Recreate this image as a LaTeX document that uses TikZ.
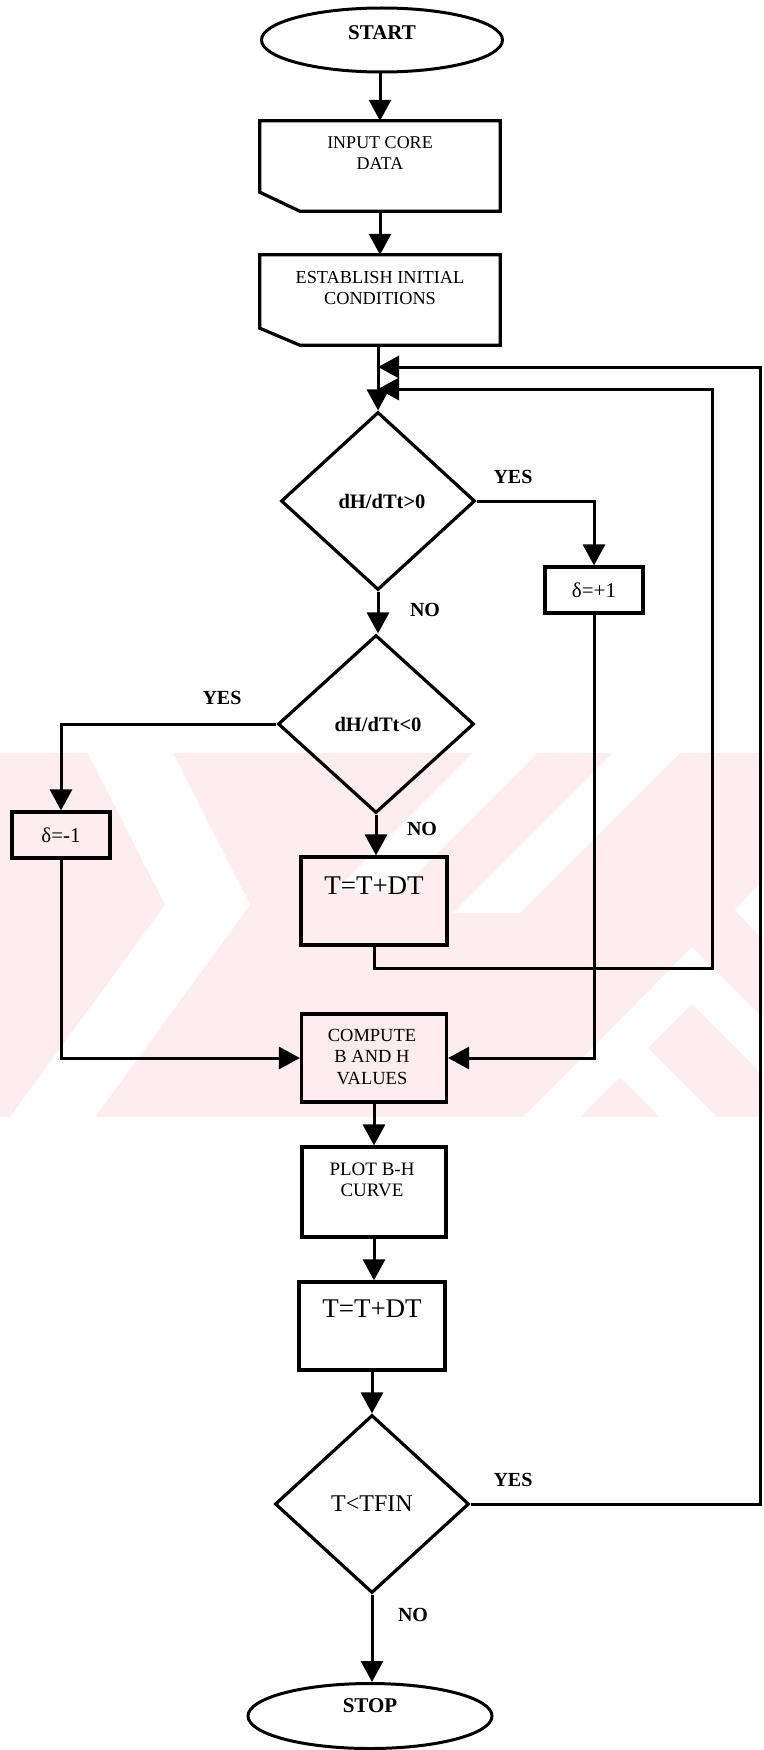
\documentclass[tikz,border=0pt]{standalone}
\usepackage{fontspec}
\setmainfont{Liberation Serif}
\usetikzlibrary{shapes.geometric,arrows.meta,calc}
\definecolor{wmpink}{RGB}{253,236,240}
\tikzset{
  x=1pt,y=-1pt,
  arr/.style={draw,line width=3pt,-{Triangle[width=22pt,length=21pt]}},
  term/.style={ellipse,draw,line width=3pt,inner sep=0pt},
  boxx/.style={rectangle,draw,line width=3.2pt,inner sep=0pt},
  ghost/.style={rectangle,inner sep=0pt},
  outline/.style={draw,line width=3.2pt},
  dec/.style={diamond,draw,line width=3.2pt,inner sep=0pt},
  txt/.style={inner sep=0pt,align=center,font=\fontsize{18}{21}\selectfont},
  lbl/.style={inner sep=0pt,font=\bfseries\fontsize{20}{22}\selectfont},
}
\begin{document}
\begin{tikzpicture}
\useasboundingbox (0,0) rectangle (763,1750);
% watermark
\fill[wmpink] (0,753) rectangle (763,1117);
\fill[white] (88,753) -- (173,753) -- (250,905) -- (95,1117) -- (10,1117) -- (165,905) -- cycle;
\fill[white] (473,753) -- (537,753) -- (400,890) -- (336,890) -- cycle;
\fill[white] (613,753) -- (680,753) -- (520,913) -- (453,913) -- cycle;
\fill[white] (620,1020) -- (717,1117) -- (660,1117) -- (620,1077) -- (580,1117) -- (523,1117) -- cycle;
\fill[white] (692,947) -- (763,1018) -- (763,1075) -- (692,1004) -- (640,1056) -- (612,1028) -- cycle;
\fill[white] (763,880) -- (735,910) -- (763,940) -- cycle;

% nodes
\node[term,minimum width=241pt,minimum height=64pt] (start) at (382,40) {};
\node[lbl,font=\bfseries\fontsize{21}{22}\selectfont] (starttxt) at (382,33) {START};

\node[ghost,minimum width=240pt,minimum height=90pt] (input) at (380,166) {};
\draw[outline] (input.north west) -- (input.north east) -- (input.south east)
  -- ([xshift=40pt]input.south west) -- ([yshift=19pt]input.south west) -- cycle;
\node[txt] (inputtxt) at (380,153) {INPUT CORE\\DATA};

\node[ghost,minimum width=240pt,minimum height=90pt] (estab) at (380,300) {};
\draw[outline] (estab.north west) -- (estab.north east) -- (estab.south east)
  -- ([xshift=40pt]estab.south west) -- ([yshift=17pt]estab.south west) -- cycle;
\node[txt,font=\fontsize{18.3}{21}\selectfont] (estabtxt) at (380,288) {ESTABLISH INITIAL\\CONDITIONS};

\node[dec,minimum width=194pt,minimum height=178pt] (d1) at (378,501) {};
\node[lbl,font=\bfseries\fontsize{20.5}{22}\selectfont] (d1txt) at (382,501) {dH/dTt>0};

\node[boxx,minimum width=98pt,minimum height=46pt] (dplus) at (594,590) {};
\node[lbl,font=\fontsize{21}{22}\selectfont] (dplustxt) at (594,590) {δ=+1};

\node[dec,minimum width=196pt,minimum height=178pt] (d2) at (376,724) {};
\node[lbl,font=\bfseries\fontsize{20.5}{22}\selectfont] (d2txt) at (378,724) {dH/dTt<0};

\node[boxx,minimum width=98pt,minimum height=46pt] (dminus) at (61,835) {};
\node[lbl,font=\fontsize{21}{22}\selectfont] (dminustxt) at (61,835) {δ=-1};

\node[boxx,minimum width=146pt,minimum height=88pt] (t1) at (374,901) {};
\node[txt,font=\fontsize{27}{28}\selectfont] (t1txt) at (374,886) {T=T+DT};

\node[boxx,minimum width=145pt,minimum height=88pt] (comp) at (374,1058) {};
\node[txt,font=\fontsize{18.5}{21.5}\selectfont] (comptxt) at (372,1057) {COMPUTE\\B AND H\\VALUES};

\node[boxx,minimum width=144pt,minimum height=90pt] (plot) at (374,1192) {};
\node[txt,font=\fontsize{19}{21}\selectfont] (plottxt) at (372,1180) {PLOT B-H\\CURVE};

\node[boxx,minimum width=146pt,minimum height=88pt] (t2) at (372,1326) {};
\node[txt,font=\fontsize{27}{28}\selectfont] (t2txt) at (372,1309) {T=T+DT};

\node[dec,minimum width=194pt,minimum height=178pt] (d3) at (372,1504) {};
\node[txt,font=\fontsize{24}{26}\selectfont] (d3txt) at (372,1504) {T<TFIN};

\node[term,minimum width=244pt,minimum height=65pt] (stop) at (370,1716) {};
\node[lbl,font=\bfseries\fontsize{21}{22}\selectfont] (stoptxt) at (370,1706) {STOP};

% labels
\node[lbl] (yes1) at (513,477) {YES};
\node[lbl] (no1) at (425,610) {NO};
\node[lbl] (yes2) at (222,698) {YES};
\node[lbl] (no2) at (422,829) {NO};
\node[lbl] (yes3) at (513,1480) {YES};
\node[lbl] (no3) at (413,1615) {NO};

% loop coordinates
\coordinate (inB) at (712,968);
\coordinate (inT) at (712,389);
\coordinate (outB) at (760,1504);
\coordinate (outT) at (760,367);

% connectors
\draw[arr] (start.south -| input.north) -- (input.north);
\draw[arr] (input.south) -- (estab.north);
\draw[arr] (d1.north |- estab.south) -- (d1.north);
\draw[arr] (d1.east) -| (dplus.north);
\draw[arr] (d1.south) -- (d1.south |- d2.north);
\draw[arr] (d2.west) -| (dminus.north);
\draw[arr] (d2.south) -- (d2.south |- t1.north);
\draw[arr] (t1.south) |- (inB) -- (inT) -- (inT -| d1.north);
\draw[arr] (dplus.south) |- (comp.east);
\draw[arr] (dminus.south) |- (comp.west);
\draw[arr] (comp.south) -- (comp.south |- plot.north);
\draw[arr] (plot.south) -- (plot.south |- t2.north);
\draw[arr] (t2.south) -- (t2.south |- d3.north);
\draw[arr] (d3.east) -- (outB) -- (outT) -- (outT -| d1.north);
\draw[arr] (d3.south) -- (d3.south |- stop.north);
\end{tikzpicture}
\end{document}
